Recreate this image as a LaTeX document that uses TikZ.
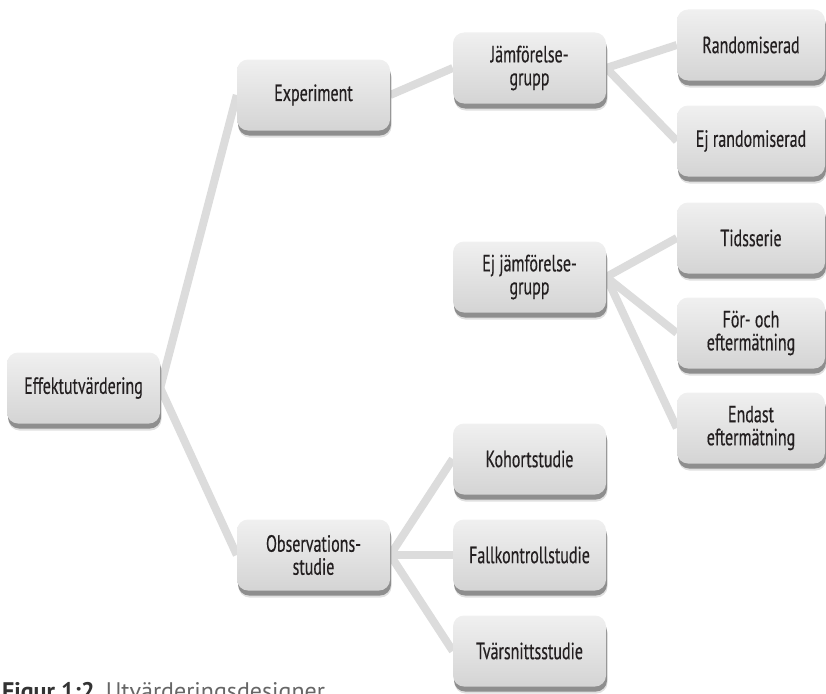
\documentclass[tikz,border=0pt]{standalone}
\usepackage{fontspec}
\setmainfont{PT Sans}
\newfontfamily\boxfont[FakeStretch=0.68,FakeBold=0.35]{PT Sans}
\usetikzlibrary{shadows,backgrounds}

\definecolor{boxtop}{HTML}{F0F0F0}
\definecolor{boxbot}{HTML}{D4D4D4}
\definecolor{shadowc}{HTML}{8E8E8E}
\definecolor{linkc}{HTML}{DCDCDC}
\definecolor{textc}{HTML}{231F20}
\definecolor{capbold}{HTML}{333333}
\definecolor{capc}{HTML}{666666}

\tikzset{
  designbox/.style={
    rounded corners=11pt, minimum width=153pt, minimum height=71pt,
    inner sep=0pt, align=center, text=textc,
    font=\boxfont\fontsize{23.5}{23}\selectfont,
    top color=boxtop, bottom color=boxbot, draw=none,
    general shadow={fill=black, opacity=0.12, shadow yshift=-7pt, shadow xshift=1.5pt},
    general shadow={fill=shadowc, shadow yshift=-5pt, shadow xshift=1pt}
  },
  leafbox/.style={designbox, minimum width=148pt},
  link/.style={draw=linkc, line width=8pt}
}

\begin{document}
\begin{tikzpicture}[x=1pt,y=-1pt]
  \useasboundingbox (0,0) rectangle (826,693);

  % tree of evaluation designs
  \node[designbox] (eff)    at (83.5,388)  {Effektutvärdering};
  \node[designbox] (exp)    at (313.5,95)  {Experiment};
  \node[designbox] (obs)    at (313.5,555) {Observations-\\studie};
  \node[designbox] (jamf)   at (529.5,68)  {Jämförelse-\\grupp};
  \node[designbox] (ejjamf) at (529.5,277) {Ej jämförelse-\\grupp};
  \node[designbox] (kohort) at (529.5,459) {Kohortstudie};
  \node[designbox] (fall)   at (529.5,555) {Fallkontrollstudie};
  \node[designbox] (tvar)   at (529.5,651) {Tvärsnittsstudie};
  \node[leafbox]   (rand)   at (751,45)    {Randomiserad};
  \node[leafbox]   (ejrand) at (751,141)   {Ej randomiserad};
  \node[leafbox]   (tids)   at (751,238)   {Tidsserie};
  \node[leafbox]   (forr)   at (751,333)   {För- och\\eftermätning};
  \node[leafbox]   (endast) at (751,428)   {Endast\\eftermätning};

  % connectors behind the boxes
  \begin{scope}[on background layer]
    \draw[link] (eff.east) -- (exp.west);
    \draw[link] (eff.east) -- (obs.west);
    \draw[link] (exp.east) -- (jamf.west);
    \draw[link] (jamf.east) -- (rand.west);
    \draw[link] (jamf.east) -- (ejrand.west);
    \draw[link] (ejjamf.east) -- (tids.west);
    \draw[link] (ejjamf.east) -- (forr.west);
    \draw[link] (ejjamf.east) -- (endast.west);
    \draw[link] (obs.east) -- (kohort.west);
    \draw[link] (obs.east) -- (fall.west);
    \draw[link] (obs.east) -- (tvar.west);
  \end{scope}

  % caption
  \node[anchor=base west, inner sep=0pt, font=\fontsize{24}{26}\selectfont] (caption) at (2,699)
    {\textcolor{capbold}{\bfseries Figur 1:2}\hspace{11pt}\textcolor{capc}{Utvärderingsdesigner}};
\end{tikzpicture}
\end{document}
